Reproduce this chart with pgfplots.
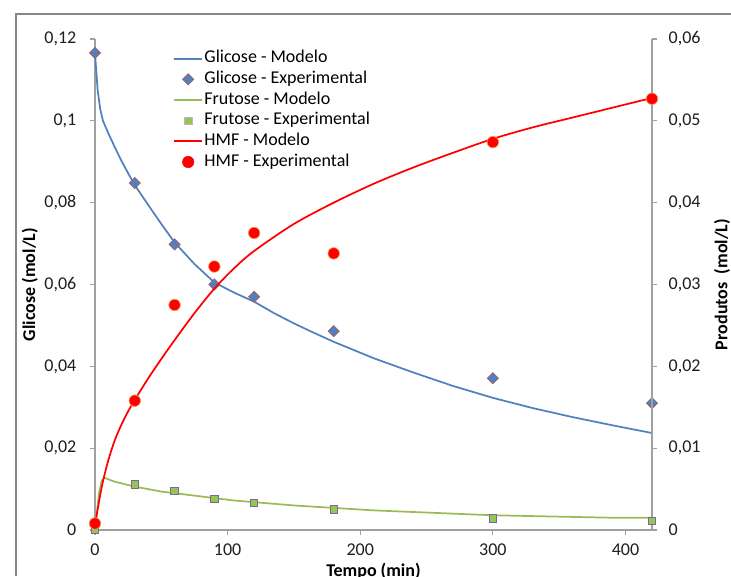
\documentclass[border=0pt]{standalone}
\usepackage{fontspec}
\setmainfont{Carlito}
\usepackage{pgfplots}
\pgfplotsset{compat=1.18}

\definecolor{glblue}{RGB}{79,129,189}
\definecolor{glborder}{RGB}{192,80,77}
\definecolor{frgreen}{RGB}{155,187,89}
\definecolor{frfill}{RGB}{146,200,80}
\definecolor{frborder}{RGB}{128,100,162}
\definecolor{hmfred}{RGB}{255,0,0}
\definecolor{hmfborder}{RGB}{247,150,70}
\definecolor{axgray}{RGB}{160,160,160}
\definecolor{framegray}{RGB}{134,134,134}
\definecolor{txtgray}{RGB}{30,30,30}

\newcommand\chartfont{\fontsize{13.5}{16}\selectfont}

\pgfplotsset{
  excelaxis/.style={
    scale only axis, width=417.75pt, height=368.25pt,
    xmin=0, xmax=420,
    clip=false,
    axis line style={draw=axgray, line width=0.8pt, -},
    tick style={draw=axgray, line width=0.8pt},
    tick align=outside, major tick length=4pt,
    tick label style={font=\chartfont, text=txtgray},
    scaled y ticks=false,
    /pgf/number format/use comma,
    /pgf/number format/fixed,
    /pgf/number format/precision=2,
    /pgf/number format/assume math mode=true,
  },
  legend image code/.code={
    \draw[mark repeat=2, mark phase=2, #1] plot coordinates {(0pt,0pt) (10.5pt,0pt) (21pt,0pt)};
  },
}

\begin{document}
\begin{tikzpicture}
\useasboundingbox (0pt,0pt) rectangle (548.25pt,432pt);
\draw[framegray, line width=0.8pt] (12pt,0pt) -- (12pt,421.5pt) -- (548.25pt,421.5pt);

% eixo principal: glicose
\begin{axis}[
  excelaxis,
  at={(71.25pt,34.5pt)}, anchor=south west,
  axis x line*=bottom, axis y line*=left,
  ymin=0, ymax=0.12,
  xtick={0,100,200,300,400},
  ytick={0,0.02,0.04,0.06,0.08,0.1,0.12},
  yticklabel style={xshift=-6.5pt},
  xticklabel style={yshift=-3pt},
  xlabel={Tempo (min)},
  ylabel={Glicose (mol/L)},
  xlabel style={at={(axis description cs:0.5,-0.084)}, anchor=center, font=\chartfont\bfseries},
  ylabel style={at={(axis description cs:-0.117,0.5)}, anchor=center, font=\chartfont\bfseries},
  legend style={draw=none, fill=none, font=\chartfont,
    at={(axis description cs:0.133,0.987)}, anchor=north west,
    nodes={text height=9.5pt, text depth=3pt, inner ysep=1.5pt, inner xsep=1pt},
    row sep=0pt},
  legend cell align=left,
]
\addplot[color=glblue, line width=1.3pt, mark=none] coordinates {
  (0,0.1165) (2,0.1075) (4,0.1028) (6,0.1000) (10,0.0970) (15,0.0935) (20,0.0902)
  (25,0.0872) (30,0.0843) (40,0.0795) (50,0.0748) (60,0.0703) (75,0.0650) (90,0.0605)
  (105,0.0580) (120,0.0558) (135,0.0530) (150,0.0505) (165,0.0482) (180,0.0460) (210,0.0420)
  (240,0.0385) (270,0.0352) (300,0.0323) (330,0.0298) (360,0.0276)
  (390,0.0256) (420,0.0237)
};
\addplot[only marks, mark=square*, mark size=3pt,
  mark options={rotate=45, fill=glblue, draw=glborder, line width=0.4pt}] coordinates {
  (0,0.1166) (30,0.0848) (60,0.0698) (90,0.0600) (120,0.0570)
  (180,0.0486) (300,0.0371) (420,0.0310)
};
\addlegendimage{color=frgreen, line width=1.3pt, mark=none}
\addlegendimage{only marks, mark=square*, mark size=2.8pt,
  mark options={fill=frfill, draw=frborder!50!white, line width=0.6pt}}
\addlegendimage{color=hmfred, line width=1.3pt, mark=none}
\addlegendimage{only marks, mark=*, mark size=4.3pt,
  mark options={fill=hmfred, draw=hmfred}}
\legend{Glicose - Modelo, Glicose - Experimental, Frutose - Modelo,
  Frutose - Experimental, HMF - Modelo, HMF - Experimental}
\end{axis}

% eixo secundario: produtos
\begin{axis}[
  excelaxis,
  at={(71.25pt,34.5pt)}, anchor=south west,
  axis y line*=right, axis x line=none,
  ymin=0, ymax=0.06,
  ytick={0,0.01,0.02,0.03,0.04,0.05,0.06},
  yticklabel style={xshift=5pt},
  ylabel={Produtos\ \ (mol/L)},
  ylabel style={at={(axis description cs:1.1257,0.5)}, anchor=center, font=\chartfont\bfseries},
]
\addplot[color=frgreen, line width=1.3pt, mark=none] coordinates {
  (0,0.0000) (3,0.0045) (5,0.0060) (7,0.0064) (10,0.0062) (15,0.0059)
  (20,0.0057) (30,0.0053) (40,0.0050) (50,0.0047) (60,0.0045) (75,0.0042)
  (90,0.0039) (105,0.0036) (120,0.0034) (150,0.0030) (180,0.0027)
  (210,0.0024) (240,0.0022) (270,0.0020) (300,0.0018) (330,0.0017)
  (360,0.0016) (390,0.0015) (420,0.0015)
};
\addplot[only marks, mark=square*, mark size=2.8pt,
  mark options={fill=frfill, draw=frborder, line width=0.6pt}] coordinates {
  (0,0.0000) (30,0.0056) (60,0.0048) (90,0.0038) (120,0.0033)
  (180,0.0025) (300,0.0014) (420,0.0011)
};
\addplot[color=hmfred, line width=1.3pt, mark=none, smooth] coordinates {
  (0,0.0006) (5,0.0052) (10,0.0085) (15,0.0110) (20,0.0129) (25,0.0145)
  (30,0.0159) (40,0.0185) (50,0.0209) (60,0.0232) (75,0.0265) (90,0.0295)
  (105,0.0320) (120,0.0341) (150,0.0374) (180,0.0400) (210,0.0423)
  (240,0.0443) (270,0.0461) (300,0.0478) (330,0.0492) (360,0.0504)
  (390,0.0516) (420,0.0528)
};
\addplot[only marks, mark=*, mark size=4.3pt,
  mark options={fill=hmfred, draw=hmfborder, line width=0.5pt}] coordinates {
  (0,0.0008) (30,0.0158) (60,0.0275) (90,0.0322) (120,0.0363)
  (180,0.0338) (300,0.0474) (420,0.0527)
};
\end{axis}
\end{tikzpicture}
\end{document}
